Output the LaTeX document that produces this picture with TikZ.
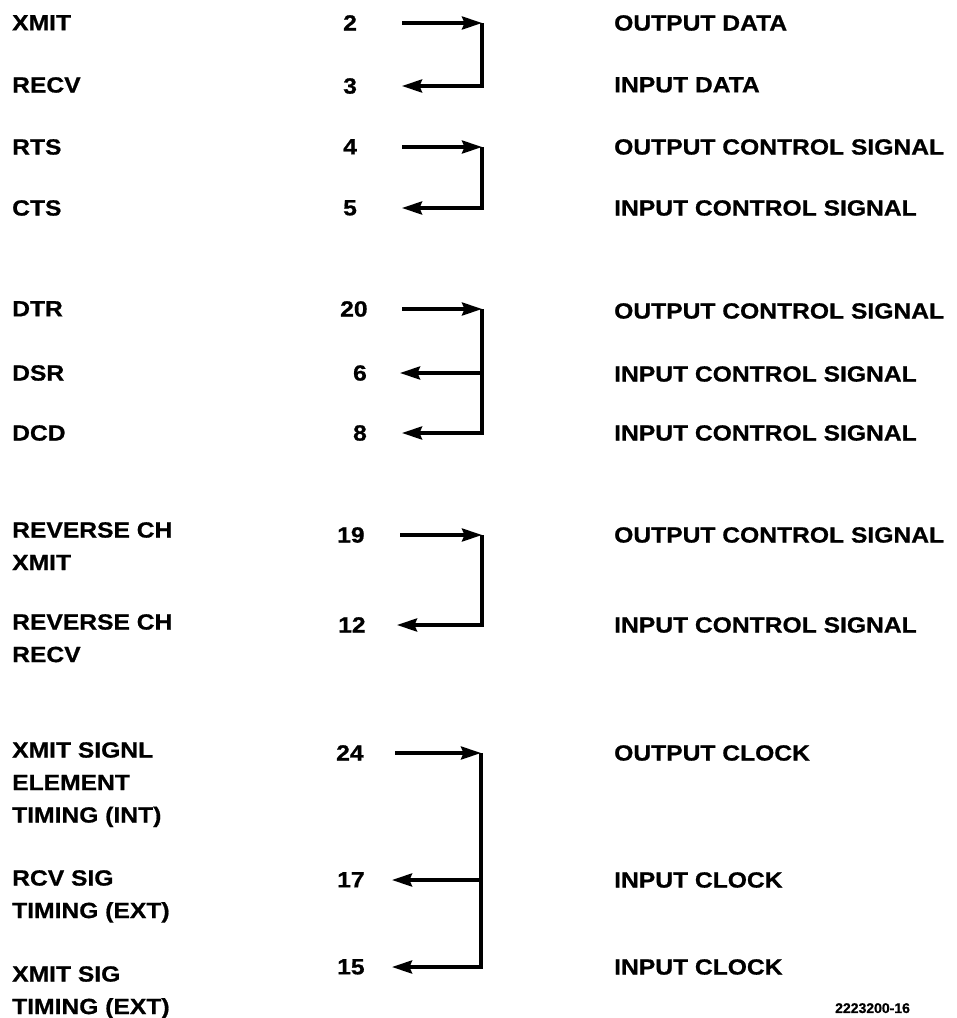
\documentclass[tikz,border=0pt]{standalone}
\usepackage{fontspec}
\setmainfont{Liberation Sans}[FakeStretch=1.12, BoldFeatures={FakeBold=0.8}]
\newfontfamily\codefont{Liberation Sans}[BoldFeatures={FakeBold=0.8}]
\usetikzlibrary{arrows.meta}
\begin{document}
\begin{tikzpicture}[x=1pt,y=-1pt,
  lbl/.style={anchor=north west, inner sep=0pt, align=left, font=\fontsize{22}{32.5}\selectfont\bfseries},
  num/.style={anchor=north west, inner sep=0pt, font=\fontsize{22}{26}\selectfont\bfseries},
  numr/.style={num, anchor=north east},
  wire/.style={line width=3.5pt, line join=miter},
  arr/.style={wire, -{Stealth[length=20pt,width=13pt,inset=2.5pt]}}
]
\useasboundingbox (0,0) rectangle (957,1018);

% ---- left labels
\node[lbl] (l2)  at (12,15)  {XMIT};
\node[lbl] (l3)  at (12,77)  {RECV};
\node[lbl] (l4)  at (12,139) {RTS};
\node[lbl] (l5)  at (12,200) {CTS};
\node[lbl] (l20) at (12,301) {DTR};
\node[lbl] (l6)  at (12,365) {DSR};
\node[lbl] (l8)  at (12,425) {DCD};
\node[lbl] (l19) at (12,522) {REVERSE CH\\XMIT};
\node[lbl] (l12) at (12,614) {REVERSE CH\\RECV};
\node[lbl] (l24) at (12,742) {XMIT SIGNL\\ELEMENT\\TIMING (INT)};
\node[lbl] (l17) at (12,870) {RCV SIG\\TIMING (EXT)};
\node[lbl] (l15) at (12,966) {XMIT SIG\\TIMING (EXT)};

% ---- pin numbers
\node[num]  (n2)  at (343,15)  {2};
\node[num]  (n3)  at (343,78)  {3};
\node[num]  (n4)  at (343,139) {4};
\node[num]  (n5)  at (343,200) {5};
\node[num]  (n20) at (340,301) {20};
\node[numr] (n6)  at (367,365) {6};
\node[numr] (n8)  at (367,425) {8};
\node[num]  (n19) at (337,527) {19};
\node[num]  (n12) at (338,617) {12};
\node[num]  (n24) at (336,745) {24};
\node[num]  (n17) at (337,872) {17};
\node[num]  (n15) at (337,959) {15};

% ---- right labels
\node[lbl] (r2)  at (614,15)  {OUTPUT DATA};
\node[lbl] (r3)  at (614,77)  {INPUT DATA};
\node[lbl] (r4)  at (614,139) {OUTPUT CONTROL SIGNAL};
\node[lbl] (r5)  at (614,200) {INPUT CONTROL SIGNAL};
\node[lbl] (r20) at (614,303) {OUTPUT CONTROL SIGNAL};
\node[lbl] (r6)  at (614,366) {INPUT CONTROL SIGNAL};
\node[lbl] (r8)  at (614,425) {INPUT CONTROL SIGNAL};
\node[lbl] (r19) at (614,527) {OUTPUT CONTROL SIGNAL};
\node[lbl] (r12) at (614,617) {INPUT CONTROL SIGNAL};
\node[lbl] (r24) at (614,745) {OUTPUT CLOCK};
\node[lbl] (r17) at (614,872) {INPUT CLOCK};
\node[lbl] (r15) at (614,959) {INPUT CLOCK};

\node[anchor=north west, inner sep=0pt, font=\codefont\bfseries\fontsize{14}{16}\selectfont] (code) at (835,1003) {2223200-16};

% ---- connector points
\coordinate (s2) at (402,23);  \coordinate (c2) at (482,23);
\coordinate (t3) at (402,86);  \coordinate (c3) at (482,86);
\coordinate (s4) at (402,147); \coordinate (c4) at (482,147);
\coordinate (t5) at (402,208); \coordinate (c5) at (482,208);
\coordinate (s20) at (402,309); \coordinate (c20) at (482,309);
\coordinate (t6) at (400,373);  \coordinate (c6) at (482,373);
\coordinate (t8) at (402,433);  \coordinate (c8) at (482,433);
\coordinate (s19) at (400,535); \coordinate (c19) at (482,535);
\coordinate (t12) at (397,625); \coordinate (c12) at (482,625);
\coordinate (s24) at (395,753); \coordinate (c24) at (481,753);
\coordinate (t17) at (392,880); \coordinate (c17) at (481,880);
\coordinate (t15) at (392,967); \coordinate (c15) at (481,967);

% ---- connectors
\draw[arr] (s2) -- (c2);
\draw[arr] (c2) -- (c3) -- (t3);

\draw[arr] (s4) -- (c4);
\draw[arr] (c4) -- (c5) -- (t5);

\draw[arr] (s20) -- (c20);
\draw[arr] (c20) -- (c8) -- (t8);
\draw[arr] (c6) -- (t6);

\draw[arr] (s19) -- (c19);
\draw[arr] (c19) -- (c12) -- (t12);

\draw[arr] (s24) -- (c24);
\draw[arr] (c24) -- (c15) -- (t15);
\draw[arr] (c17) -- (t17);
\end{tikzpicture}
\end{document}
